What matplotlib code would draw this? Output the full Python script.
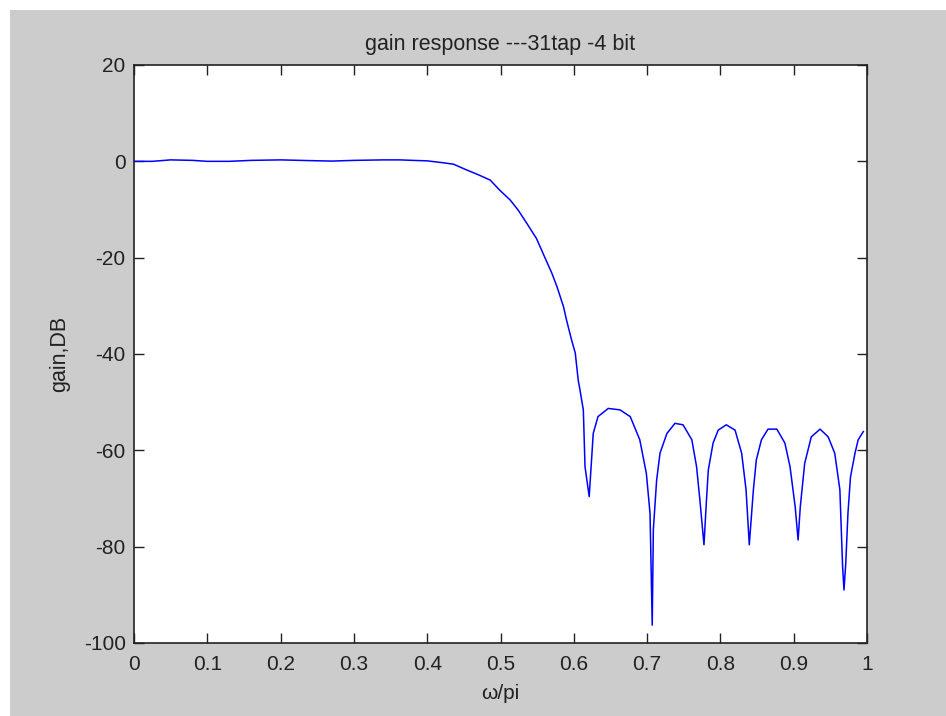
import matplotlib
matplotlib.use("Agg")
import matplotlib.pyplot as plt
from matplotlib.patches import Rectangle

# Frequency (normalised, omega/pi) and gain (dB)
freq = [0.0, 0.025, 0.05, 0.08, 0.10, 0.13, 0.16, 0.20, 0.24, 0.27, 0.30, 0.34, 0.363, 0.38,
        0.40, 0.422, 0.436, 0.454, 0.470, 0.486, 0.499, 0.513, 0.524, 0.536, 0.549, 0.558,
        0.570, 0.577, 0.586, 0.590, 0.597, 0.602, 0.606, 0.608,
        0.613, 0.6153, 0.621, 0.6245, 0.6265, 0.633, 0.647, 0.663, 0.677, 0.690, 0.699,
        0.704, 0.707, 0.7085, 0.713, 0.7176, 0.727, 0.738, 0.749, 0.761, 0.7675, 0.772,
        0.7776, 0.781, 0.7835, 0.790, 0.797, 0.808, 0.820, 0.829, 0.835, 0.8394, 0.845,
        0.849, 0.856, 0.865, 0.877, 0.888, 0.895, 0.902, 0.906, 0.909, 0.915, 0.924, 0.936,
        0.947, 0.956, 0.963, 0.9667, 0.9686, 0.971, 0.974, 0.9775, 0.9836, 0.988, 0.995]
gain = [0.0, 0.0, 0.3, 0.2, 0.0, 0.0, 0.2, 0.3, 0.15, 0.05, 0.2, 0.3, 0.3, 0.2,
        0.1, -0.3, -0.6, -1.8, -2.8, -3.9, -6.0, -8.0, -10.1, -12.9, -16.0, -19.1,
        -23.2, -26.0, -30.2, -32.9, -37.1, -39.8, -45.4, -47.1,
        -51.6, -63.4, -69.6, -61.3, -56.5, -53.0, -51.3, -51.6, -53.0, -57.8, -64.8,
        -73.1, -96.3, -76.5, -66.2, -60.6, -56.5, -54.4, -54.7, -57.8, -63.4, -70.3,
        -79.6, -70.3, -64.1, -58.5, -55.8, -54.7, -55.8, -60.6, -68.2, -79.6, -68.2,
        -62.0, -57.8, -55.6, -55.6, -58.5, -63.4, -71.7, -78.6, -71.7, -62.7, -57.2, -55.6,
        -57.2, -60.6, -68.2, -84.1, -89.0, -83.5, -73.1, -65.5, -60.6, -57.8, -56.1]

xticks = [0, 0.1, 0.2, 0.3, 0.4, 0.5, 0.6, 0.7, 0.8, 0.9, 1]
xticklabels = ["0", "0.1", "0.2", "0.3", "0.4", "0.5", "0.6", "0.7", "0.8", "0.9", "1"]
yticks = [-100, -80, -60, -40, -20, 0, 20]
yticklabels = ["-100", "-80", "-60", "-40", "-20", "0", "20"]

title = "gain response ---31tap -4 bit"
xlabel = "ω/pi"
ylabel = "gain,DB"

plt.rcParams['font.family'] = ['Liberation Sans', 'DejaVu Sans']

W, H = 946, 716
fig = plt.figure(figsize=(W / 100, H / 100), dpi=100, facecolor='white')
fig.patches.append(Rectangle((10 / W, 0), 1 - 10 / W, 1 - 10 / H,
                             transform=fig.transFigure, facecolor='#cccccc',
                             edgecolor='none', zorder=-10))

left, right, top, bottom = 134 / W, 867 / W, 1 - 65 / H, 1 - 643 / H
ax = fig.add_axes([left, bottom, right - left, top - bottom])
ax.set_facecolor('white')
ax.plot(freq, gain, color='#0000ff', lw=1.1)
ax.set_xlim(0, 1)
ax.set_ylim(-100, 20)
ax.set_xticks(xticks)
ax.set_xticklabels(xticklabels)
ax.set_yticks(yticks)
ax.set_yticklabels(yticklabels)
ax.tick_params(direction='in', length=7, width=1, top=True, right=True,
               labelsize=15, colors='#222222')
ax.tick_params(axis='x', pad=9)
ax.tick_params(axis='y', pad=6)
for s in ax.spines.values():
    s.set_color('#222222')
    s.set_linewidth(1.2)

ax.set_title(title, fontsize=15.5, pad=11, color='#222222')
ax.set_xlabel(xlabel, fontsize=15, labelpad=7, color='#222222')
ax.set_ylabel(ylabel, fontsize=15.5, labelpad=10, color='#222222')

fig.savefig('out.png', dpi=100, facecolor=fig.get_facecolor())
